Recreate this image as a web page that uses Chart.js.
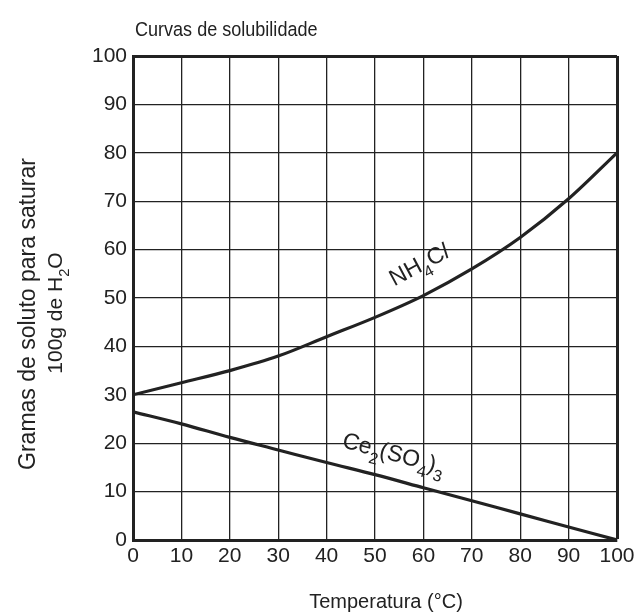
<!DOCTYPE html>
<html>
<head>
<meta charset="utf-8">
<script src="https://cdn.jsdelivr.net/npm/chart.js@4.4.1/dist/chart.umd.min.js"></script>
<style>
  body { margin: 0; background: #fff; }
  #wrap { width: 643px; height: 614px; }
</style>
</head>
<body>
<div id="wrap"><canvas id="myChart" width="643" height="614"></canvas></div>
<script>
// ---------------------------------------------------------------- DATA
const temperatures = [0, 10, 20, 30, 40, 50, 60, 70, 80, 90, 100];
const nh4clValues = [30, 32.5, 35, 38, 42, 46, 50.5, 56, 62.5, 70.5, 80];
const ceSulfateValues = [26.5, 24, 21.2, 18.6, 16, 13.5, 10.8, 8.1, 5.4, 2.7, 0];

const FONT = "'Liberation Sans', Arial, sans-serif";
const INK = "#222";

// ---------------------------------------------------------------- HELPERS
// draw a run of text pieces, some of them subscripts, centred on 0,0
function drawRich(ctx, parts, size) {
  ctx.textAlign = "left";
  let total = 0;
  parts.forEach((p) => {
    ctx.font = (p.italic ? "italic " : "") + (p.sub ? size * 0.7 : size) + "px " + FONT;
    p.w = ctx.measureText(p.t).width;
    total += p.w;
  });
  let x = -total / 2;
  parts.forEach((p) => {
    ctx.font = (p.italic ? "italic " : "") + (p.sub ? size * 0.7 : size) + "px " + FONT;
    ctx.fillText(p.t, x, p.sub ? size * 0.35 : 0);
    x += p.w;
  });
}

const labelsPlugin = {
  id: "labels",
  afterDraw(chart) {
    const ctx = chart.ctx;
    const xs = chart.scales.x;
    const ys = chart.scales.y;
    ctx.save();
    ctx.fillStyle = INK;
    ctx.textBaseline = "alphabetic";

    // title (slightly condensed like the original)
    ctx.save();
    ctx.translate(135, 36);
    ctx.scale(0.88, 1);
    ctx.textAlign = "left";
    ctx.font = "20.5px " + FONT;
    ctx.fillText("Curvas de solubilidade", 0, 0);
    ctx.restore();

    // x title
    ctx.textAlign = "center";
    ctx.font = "20px " + FONT;
    ctx.fillText("Temperatura (°C)", 386, 608);

    // y title (two lines, rotated)
    ctx.save();
    ctx.translate(35, 314);
    ctx.rotate(-Math.PI / 2);
    ctx.font = "23px " + FONT;
    ctx.textAlign = "center";
    ctx.fillText("Gramas de soluto para saturar", 0, 0);
    ctx.restore();

    ctx.save();
    ctx.translate(62, 313);
    ctx.rotate(-Math.PI / 2);
    drawRich(ctx, [{ t: "100g de H" }, { t: "2", sub: true }, { t: "O" }], 21);
    ctx.restore();

    // curve labels
    ctx.save();
    ctx.translate(xs.getPixelForValue(59.8), ys.getPixelForValue(55.5));
    ctx.rotate(-28 * Math.PI / 180);
    drawRich(ctx, [{ t: "NH" }, { t: "4", sub: true }, { t: "C" }, { t: "l", italic: true }], 23);
    ctx.restore();

    ctx.save();
    ctx.translate(xs.getPixelForValue(53.5), ys.getPixelForValue(16.4));
    ctx.rotate(15 * Math.PI / 180);
    drawRich(ctx, [{ t: "Ce" }, { t: "2", sub: true }, { t: "(SO" }, { t: "4", sub: true }, { t: ")" }, { t: "3", sub: true }], 23);
    ctx.restore();

    ctx.restore();
  },
};

// ---------------------------------------------------------------- CHART
const toPoints = (vals) => temperatures.map((t, i) => ({ x: t, y: vals[i] }));

const gridOpts = {
  color: INK,
  lineWidth: (c) => (c.tick && c.tick.value === 100 ? 3 : 1.3),
  drawTicks: false,
};

new Chart(document.getElementById("myChart"), {
  type: "line",
  data: {
    datasets: [
      {
        label: "NH4Cl",
        data: toPoints(nh4clValues),
        borderColor: INK,
        borderWidth: 3.2,
        pointRadius: 0,
        cubicInterpolationMode: "monotone",
      },
      {
        label: "Ce2(SO4)3",
        data: toPoints(ceSulfateValues),
        borderColor: INK,
        borderWidth: 3.2,
        pointRadius: 0,
        cubicInterpolationMode: "monotone",
      },
    ],
  },
  options: {
    responsive: false,
    animation: false,
    layout: { padding: { top: 56, right: 26, left: 0, bottom: 0 } },
    plugins: { legend: { display: false }, tooltip: { enabled: false } },
    scales: {
      x: {
        type: "linear",
        min: 0,
        max: 100,
        ticks: { stepSize: 10, color: INK, font: { size: 21, family: FONT }, padding: 4 },
        grid: gridOpts,
        border: { display: true, color: INK, width: 3 },
        afterFit: (s) => { s.height = 74; },
      },
      y: {
        min: 0,
        max: 100,
        ticks: { stepSize: 10, color: INK, font: { size: 21, family: FONT }, padding: 6 },
        grid: gridOpts,
        border: { display: true, color: INK, width: 3 },
        afterFit: (s) => { s.width = 133; },
      },
    },
  },
  plugins: [labelsPlugin],
});
</script>
</body>
</html>
